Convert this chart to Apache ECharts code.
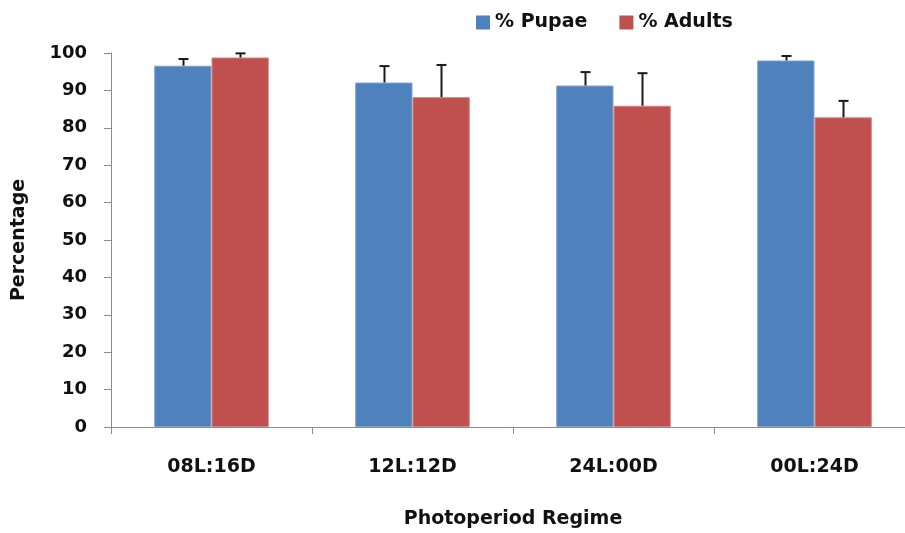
<!DOCTYPE html>
<html><head><meta charset="utf-8">
<script src="https://cdn.jsdelivr.net/npm/echarts@6/dist/echarts.min.js"></script>
<style>html,body{margin:0;padding:0;background:#fff}#c{width:905px;height:533px}</style>
</head><body><div id="c"></div>
<script>
const categories = ['08L:16D', '12L:12D', '24L:00D', '00L:24D'];
const pupae = [96.6, 92.1, 91.3, 98.0];
const pupaeErr = [1.8, 4.4, 3.6, 1.2];
const adults = [98.8, 88.2, 85.9, 82.8];
const adultsErr = [1.1, 8.6, 8.7, 4.4];
const yTicks = [0, 10, 20, 30, 40, 50, 60, 70, 80, 90, 100];

const FONT = '"DejaVu Sans"';
const gapPct = 43;
function errSeries(name, vals, errs, side) {
  return {
    type: 'custom', name: name + ' err', silent: true, z: 5,
    data: vals.map((v, i) => [i, v, v + errs[i]]),
    renderItem: function (params, api) {
      const band = api.size([1, 0])[0];
      const bw = band * (1 - gapPct / 100) / 2;
      const base = api.coord([api.value(0), api.value(1)]);
      const top = api.coord([api.value(0), api.value(2)]);
      const x = Math.round(base[0] + side * bw / 2) + 0.5;
      const cap = 5;
      const st = { stroke: '#1a1a1a', lineWidth: 2 };
      return { type: 'group', children: [
        { type: 'line', shape: { x1: x, y1: base[1], x2: x, y2: top[1] }, style: st },
        { type: 'line', shape: { x1: x - cap, y1: top[1], x2: x + cap, y2: top[1] }, style: st }
      ]};
    }
  };
}
const chart = echarts.init(document.getElementById('c'), null, { renderer: 'canvas' });
chart.setOption({
  animation: false,
  legend: {
    data: ['% Pupae', '% Adults'], top: 8, left: 471, itemWidth: 14, itemHeight: 14, itemGap: 32,
    itemTextGap: 6, icon: 'rect', itemStyle: { borderWidth: 0 },
    textStyle: { fontFamily: FONT, fontWeight: 'bold', fontSize: 19, color: '#111' }
  },
  grid: { left: 111, top: 53, bottom: 106, right: -10, containLabel: false, outerBoundsMode: 'none' },
  xAxis: {
    type: 'category', data: categories,
    name: 'Photoperiod Regime', nameLocation: 'middle', nameGap: 83,
    nameTextStyle: { fontFamily: FONT, fontWeight: 'bold', fontSize: 19, color: '#111' },
    axisLine: { lineStyle: { color: '#8c8c8c', width: 1 } },
    axisTick: { show: true, length: 7, lineStyle: { color: '#8c8c8c' } },
    axisLabel: { fontFamily: FONT, fontWeight: 'bold', fontSize: 19, color: '#111', margin: 31 }
  },
  yAxis: {
    type: 'value', min: yTicks[0], max: yTicks[yTicks.length - 1], interval: 10,
    name: 'Percentage', nameLocation: 'middle', nameGap: 82, nameRotate: 90,
    nameTextStyle: { fontFamily: FONT, fontWeight: 'bold', fontSize: 19, color: '#111' },
    splitLine: { show: false },
    axisLine: { show: true, lineStyle: { color: '#8c8c8c', width: 1 } },
    axisTick: { show: true, length: 7, lineStyle: { color: '#8c8c8c' } },
    axisLabel: { fontFamily: FONT, fontWeight: 'bold', fontSize: 18, color: '#111', margin: 24 }
  },
  series: [
    { type: 'bar', name: '% Pupae', data: pupae, barGap: '0%', barCategoryGap: gapPct + '%',
      itemStyle: { color: '#4f81bd', borderColor: '#7ea3d3', borderWidth: 1 } },
    { type: 'bar', name: '% Adults', data: adults, barGap: '0%', barCategoryGap: gapPct + '%',
      itemStyle: { color: '#c0504d', borderColor: '#d68481', borderWidth: 1 } },
    errSeries('% Pupae', pupae, pupaeErr, -1),
    errSeries('% Adults', adults, adultsErr, 1)
  ]
});
</script></body></html>
